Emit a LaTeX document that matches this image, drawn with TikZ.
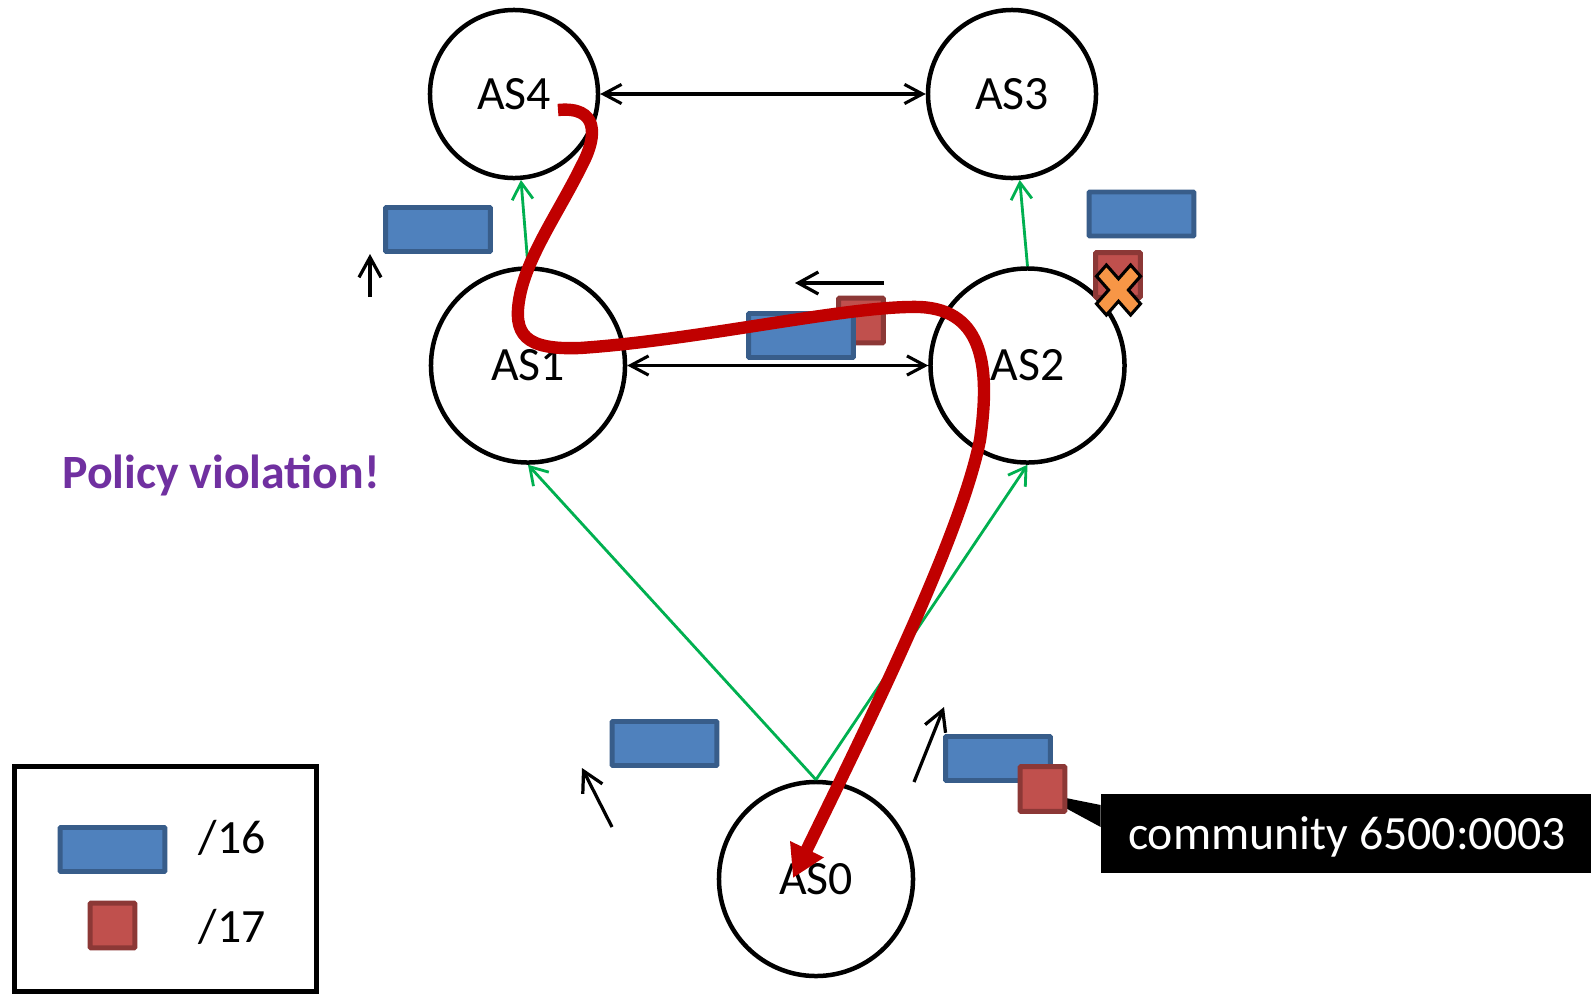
\documentclass[tikz,border=0pt]{standalone}
\usepackage{fontspec}
\setmainfont{Carlito}
\usetikzlibrary{arrows.meta}
\usetikzlibrary{calc}

\definecolor{pfxfill}{HTML}{4F81BD}
\definecolor{pfxline}{HTML}{385D8A}
\definecolor{subfill}{HTML}{C0504D}
\definecolor{subline}{HTML}{8C3836}
\definecolor{provgreen}{HTML}{00B050}
\definecolor{routered}{HTML}{C00000}
\definecolor{warnpurple}{HTML}{7030A0}
\definecolor{xorange}{HTML}{F79646}

\begin{document}
\begin{tikzpicture}[x=0.025cm, y=-0.025cm, font=\fontsize{34}{40}\selectfont,
  as/.style={circle, draw, line width=3.2pt, minimum size=#1, inner sep=0pt},
  p16/.style={rectangle, draw=pfxline, fill=pfxfill, line width=3.5pt, rounded corners=0.6pt, minimum width=2.62cm, minimum height=1.1cm},
  p17/.style={rectangle, draw=subline, fill=subfill, line width=3.5pt, rounded corners=0.6pt, minimum size=1.12cm},
  peer/.style={{Straight Barb[length=0.45cm,width=0.48cm]}-{Straight Barb[length=0.45cm,width=0.48cm]}, line width=2.2pt},
  prov/.style={-{Straight Barb[length=0.42cm,width=0.52cm]}, draw=provgreen, line width=2pt},
  move/.style={-{Straight Barb[length=0.5cm,width=0.55cm]}, line width=2.3pt},
  route/.style={-{Triangle[length=0.8cm,width=0.88cm]}, draw=routered, line width=8.8pt}]

\path[use as bounding box, fill=white] (0,0) rectangle (1591,994);

% five ASes
\node (as4)[as=4.2cm] at (514,94) {AS4};
\node (as3)[as=4.2cm] at (1012,94) {AS3};
\node (as1)[as=4.85cm] at (528,365.5) {AS1};
\node (as2)[as=4.85cm] at (1027.5,365.5) {AS2};
\node (as0)[as=4.85cm] at (816,879) {AS0};

% peers and providers
\draw[peer] (as4) -- (as3);
\draw[peer] (as1) -- (as2);
\draw[prov] (as1.north) -- (as4);
\draw[prov] (as2.north) -- (as3);
\draw[prov] (as0.north) -- (as1.south);
\draw[prov] (as0.north) -- (as2.south);

% tag on the /17
\node (cm)[fill=black, text=white, text depth=0pt, minimum width=12.3cm, minimum height=1.98cm] at (1347,833.5) {community 6500:0003};

% announcements
\node (pa)[p16] at (438,229.5) {};
\node (pb)[p16] at (1141.5,214) {};
\node (sb)[p17] at (1118,275) {};
\node (sm)[p17] at (861,320.5) {};
\node (pm)[p16] at (801,335.5) {};
\node (pl)[p16] at (664.5,743.5) {};
\node (pr)[p16] at (998,758.5) {};
\fill (cm.west) ++(0,-28.5) -- ($(cm.west)+(0,-6.5)$) -- (1036,792) -- cycle;
\node (sr)[p17] at (1042.5,789) {};

\foreach \xa/\ya/\xb/\yb in {370/297/370/254, 884/283/795/283, 612/827/582/768, 914/782/944/707}
  \draw[move] (\xa,\ya) -- (\xb,\yb);

% filtered at AS2
\filldraw[fill=xorange, line width=2.2pt, line join=miter, shift={(1118.5,290)}, xscale=22, yscale=25]
  (-1,-0.55) -- (-0.55,-1) -- (0,-0.45) -- (0.55,-1) -- (1,-0.55) -- (0.45,0) -- (1,0.55)
  -- (0.55,1) -- (0,0.45) -- (-0.55,1) -- (-1,0.55) -- (-0.45,0) -- cycle;

% the traffic
\draw[route] ($(as4)+(44,16)$) .. controls (598,106) and (598,135) .. (582,165)
  .. controls (560,210) and (528,255) .. (520,295)
  .. controls (512,335) and (525,350) .. (580,348)
  .. controls (700,340) and (850,305) .. (920,307)
  .. controls (985,310) and (990,370) .. (980,440)
  .. controls (960,540) and (860,740) .. ($(as0)+(-23,-1)$);

\node (warn)[text=warnpurple, font=\fontsize{34}{40}\selectfont\bfseries] at (221,475) {Policy violation!};

% legend
\node (key)[draw, line width=3.5pt, minimum width=7.55cm, minimum height=5.625cm] at (165.5,879) {};
\node (k16)[p16] at (112.5,849.5) {};
\node (k17)[p17] at (112.5,925.5) {};
\node (t16)[anchor=west] at (194,838) {/16};
\node (t17)[anchor=west] at (194,927) {/17};
\end{tikzpicture}
\end{document}
